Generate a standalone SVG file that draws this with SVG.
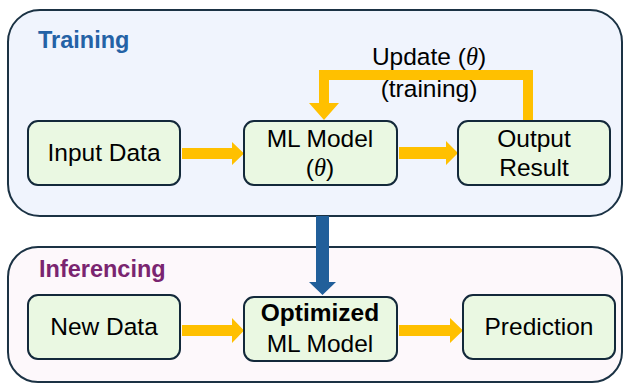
<svg xmlns="http://www.w3.org/2000/svg" width="624" height="383" viewBox="0 0 624 383">
<style>
.panel{stroke:#1B3244;stroke-width:2}
.node{fill:#EAF8E2;stroke:#13293A;stroke-width:2}
.t{font-family:"Liberation Sans",Arial,sans-serif;font-size:24.5px;fill:#000;text-anchor:middle}
.th{font-family:"Liberation Serif","DejaVu Serif",serif;font-style:italic}
.hdr{font-family:"Liberation Sans",Arial,sans-serif;font-size:23.5px;font-weight:bold}
.y{fill:#FFC000}
</style>
<rect class="panel" x="8" y="10" width="614" height="206" rx="32" fill="#F0F4FD"/>
<rect class="panel" x="8" y="247" width="614" height="135" rx="30" fill="#FDF8FB"/>
<text class="hdr" x="38" y="48" fill="#2462A6">Training</text>
<text class="hdr" x="39" y="277" fill="#7A2570">Inferencing</text>
<g id="connectors">
<polygon class="y" points="182,148 232,148 232,142 244,153.5 232,165 232,159 182,159"/>
<polygon class="y" points="399,147 446,147 446,141 458,153 446,165 446,159 399,159"/>
<polygon class="y" points="523,121 523,80 329,80 329,103 339,103 324,120 309,103 319,103 319,70 533,70 533,121"/>
<polygon class="y" points="182,325 232,325 232,318 244,330.5 232,343 232,336 182,336"/>
<polygon class="y" points="399,325 450,325 450,318 463,330.5 450,343 450,336 399,336"/>
<polygon fill="#215F9A" points="316,216 329,216 329,282 336,282 322.5,295 309,282 316,282"/>
</g>
<g id="input-data"><rect class="node" x="28" y="121" width="152" height="64" rx="10"/><text class="t" x="104" y="161">Input Data</text></g>
<g id="ml-model"><rect class="node" x="244" y="121" width="153" height="64" rx="10"/><text class="t" x="320" y="147">ML Model</text><text class="t" x="320" y="176">(<tspan class="th">θ</tspan>)</text></g>
<g id="output-result"><rect class="node" x="458" y="121" width="152" height="64" rx="10"/><text class="t" x="534" y="147">Output</text><text class="t" x="534" y="176">Result</text></g>
<g id="update-label"><text class="t" x="429" y="65">Update (<tspan class="th">θ</tspan>)</text><text class="t" x="429" y="97">(training)</text></g>
<g id="new-data"><rect class="node" x="28" y="295" width="152" height="64" rx="10"/><text class="t" x="104" y="335">New Data</text></g>
<g id="optimized-model"><rect class="node" x="244" y="297" width="153" height="64" rx="10"/><text class="t" x="320" y="321" font-weight="bold">Optimized</text><text class="t" x="320" y="352">ML Model</text></g>
<g id="prediction"><rect class="node" x="463" y="295" width="152" height="64" rx="10"/><text class="t" x="539" y="335">Prediction</text></g>
</svg>
